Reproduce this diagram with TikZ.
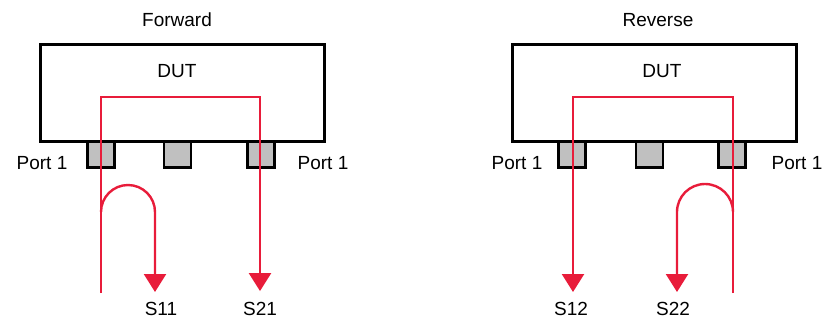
\documentclass[tikz,border=0pt]{standalone}
\usepackage{fontspec}
\setmainfont{Liberation Sans}
\usepackage{tikz}
\usetikzlibrary{arrows.meta}
\definecolor{sigred}{RGB}{232,28,58}
\definecolor{portgray}{RGB}{192,192,192}

\begin{document}
\begin{tikzpicture}[x=1pt,y=-1pt,
  txt/.style={inner sep=0pt,font=\fontsize{19}{22}\selectfont},
  dutbox/.style={draw,line width=3pt,fill=white,minimum width=284pt,minimum height=97pt,inner sep=0pt},
  portbox/.style={draw,line width=2.6pt,fill=portgray,minimum width=27pt,minimum height=26pt,inner sep=0pt},
  sig/.style={sigred,line width=2.4pt},
  tip/.style={-{Triangle[length=18pt,width=22pt]}}]
\useasboundingbox (0,0) rectangle (827,325);

% forward
\node[dutbox] (dutF) at (182,93) {};
\node[portbox] (pF1) at (101,154.6) {};
\node[portbox] (pF2) at (177.5,154.6) {};
\node[portbox] (pF3) at (261,154.6) {};

\node[txt] (fwd) at (177,20) {Forward};
\node[txt] (dutlF) at (177,71) {DUT};
\node[txt] (portFl) at (42,163) {Port 1};
\node[txt] (portFr) at (323,163) {Port 1};
\node[txt] (s11) at (161,309) {S11};
\node[txt] (s21) at (260,309) {S21};

\coordinate (inF) at (101,293);
\coordinate (topF) at (182,97);
\coordinate (loopF) at (101,212);
\coordinate (tipF) at (155,292);

\draw[sig,tip,shorten >=11pt] (inF) |- (topF) -| (s21.north);
\draw[sig,tip] (loopF) arc[start angle=180,end angle=360,radius=27] -- (tipF);

% reverse
\node[dutbox] (dutR) at (654,93) {};
\node[portbox] (pR1) at (572,154.6) {};
\node[portbox] (pR2) at (649.5,154.6) {};
\node[portbox] (pR3) at (732,154.6) {};

\node[txt] (rev) at (658,20) {Reverse};
\node[txt] (dutlR) at (662,71) {DUT};
\node[txt] (portRl) at (517,163) {Port 1};
\node[txt] (portRr) at (797,163) {Port 1};
\node[txt] (s12) at (571,309) {S12};
\node[txt] (s22) at (673,309) {S22};

\coordinate (inR) at (733,293);
\coordinate (topR) at (653,97);
\coordinate (loopR) at (733,212);
\coordinate (tipR) at (677,292);
\coordinate (tipR2) at (573,292);

\draw[sig,tip] (inR) |- (topR) -| (tipR2);
\draw[sig,tip] (loopR) arc[start angle=0,end angle=-180,radius=28] -- (tipR);

\end{tikzpicture}
\end{document}
